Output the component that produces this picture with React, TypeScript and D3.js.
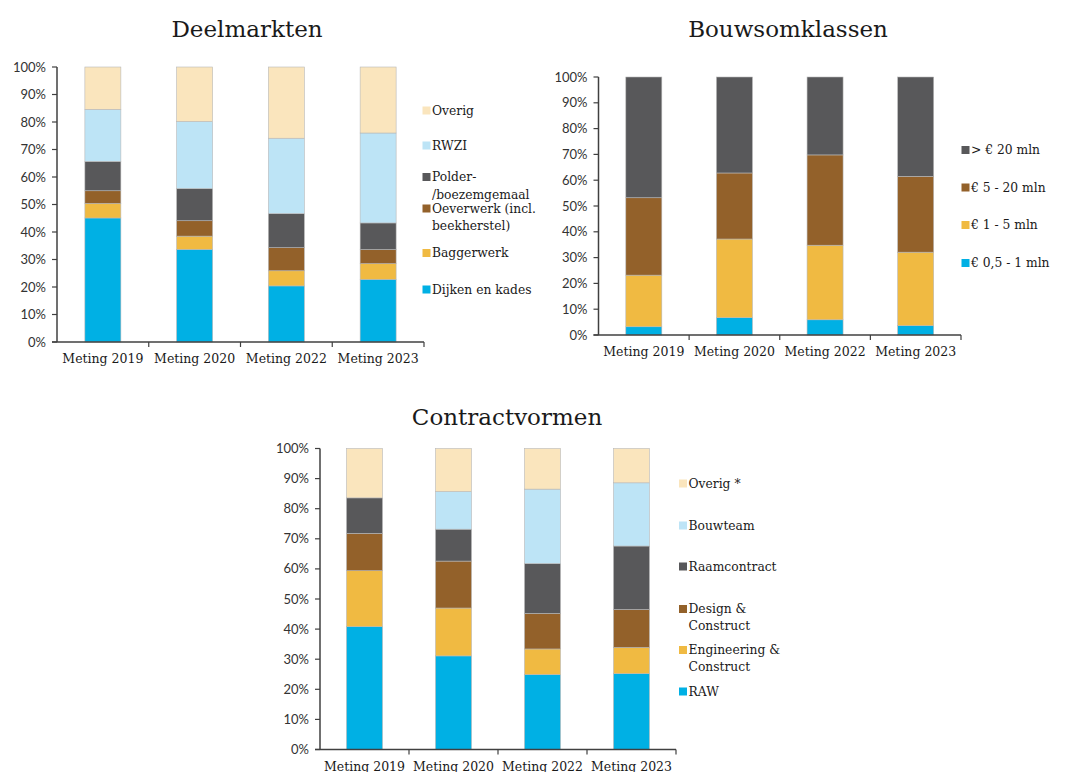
import React from "react";
import * as d3 from "d3";

const categories = ["Meting 2019", "Meting 2020", "Meting 2022", "Meting 2023"];
const yTicks = [0, 10, 20, 30, 40, 50, 60, 70, 80, 90, 100];

// Deelmarkten (bottom to top)
const deelSeries = ["Dijken en kades", "Baggerwerk", "Oeverwerk (incl. beekherstel)", "Polder- /boezemgemaal", "RWZI", "Overig"];
const deelDijken = [45.1, 33.7, 20.4, 22.8];
const deelBagger = [5.3, 4.8, 5.5, 5.7];
const deelOever = [4.6, 5.6, 8.4, 5.1];
const deelPolder = [10.7, 11.7, 12.4, 9.7];
const deelRwzi = [18.9, 24.4, 27.4, 32.7];
const deelOverig = [15.4, 19.8, 25.9, 24.0];

// Bouwsomklassen (bottom to top)
const bouwSeries = ["€ 0,5 - 1 mln", "€ 1 - 5 mln", "€ 5 - 20 mln", "> € 20 mln"];
const bouw05 = [3.2, 6.7, 5.9, 3.6];
const bouw1 = [20.0, 30.5, 28.9, 28.5];
const bouw5 = [30.0, 25.6, 35.0, 29.4];
const bouw20 = [46.8, 37.2, 30.2, 38.5];

// Contractvormen (bottom to top)
const contrSeries = ["RAW", "Engineering & Construct", "Design & Construct", "Raamcontract", "Bouwteam", "Overig *"];
const contrRaw = [40.8, 31.1, 24.9, 25.2];
const contrEc = [18.6, 15.9, 8.5, 8.7];
const contrDc = [12.4, 15.6, 11.8, 12.6];
const contrRaam = [11.8, 10.6, 16.6, 21.1];
const contrBouwteam = [0, 12.5, 24.7, 21.0];
const contrOverig = [16.4, 14.3, 13.5, 11.4];

const BLUE = "#00B0E4";
const YELLOW = "#F0BA42";
const BROWN = "#93612A";
const DARK = "#58585A";
const LIGHTBLUE = "#BDE4F6";
const BEIGE = "#FAE5BD";

const SERIF = "'DejaVu Serif', serif";
const SANS = "Lato, 'Liberation Sans', sans-serif";

type ChartProps = {
  title: string;
  titleX: number;
  titleY: number;
  x0: number;
  x1: number;
  yTop: number;
  yBot: number;
  barW: number;
  series: string[];
  values: number[][];
  colors: string[];
  legendX: number;
  legendYs: number[];
  legendLineH: number;
  legendFont: number;
};

function splitLabel(s: string): string[] {
  if (s === "Oeverwerk (incl. beekherstel)") return ["Oeverwerk (incl.", "beekherstel)"];
  if (s === "Polder- /boezemgemaal") return ["Polder-", "/boezemgemaal"];
  if (s === "Design & Construct") return ["Design &", "Construct"];
  if (s === "Engineering & Construct") return ["Engineering &", "Construct"];
  return [s];
}

function StackChart(p: ChartProps) {
  const x = d3.scaleBand<string>().domain(categories).range([p.x0, p.x1]).padding(0);
  const y = d3.scaleLinear().domain([0, 100]).range([p.yBot, p.yTop]);
  const rows = categories.map((c, i) => {
    const o: any = { cat: c };
    p.series.forEach((s, k) => (o[s] = p.values[k][i]));
    return o;
  });
  const stacked = d3.stack<any>().keys(p.series)(rows);
  const axisColor = "#404040";
  return (
    <g>
      <text x={p.titleX} y={p.titleY} textAnchor="middle" fontFamily={SERIF} fontSize={23} fill="#1a1a1a">
        {p.title}
      </text>
      {stacked.map((layer, k) => (
        <g key={k}>
          {layer.map((d, i) => {
            const h = y(d[0]) - y(d[1]);
            if (h <= 0) return null;
            const cx = (x(categories[i]) as number) + x.bandwidth() / 2;
            return (
              <rect
                key={i}
                x={cx - p.barW / 2}
                y={y(d[1])}
                width={p.barW}
                height={h}
                fill={p.colors[k]}
                stroke="#b8b8b8"
                strokeWidth={0.6}
              />
            );
          })}
        </g>
      ))}
      {/* y axis */}
      <line x1={p.x0} x2={p.x0} y1={p.yTop} y2={p.yBot} stroke={axisColor} strokeWidth={1.5} />
      {yTicks.map((t) => (
        <g key={t}>
          <line x1={p.x0 - 5} x2={p.x0} y1={y(t)} y2={y(t)} stroke={axisColor} strokeWidth={1.2} />
          <text x={p.x0 - 11} y={y(t)} dy="0.35em" textAnchor="end" fontFamily={SANS} fontSize={13} fill="#333">
            {t}%
          </text>
        </g>
      ))}
      {/* x axis */}
      <line x1={p.x0 - 5} x2={p.x1} y1={p.yBot} y2={p.yBot} stroke={axisColor} strokeWidth={1.5} />
      {categories.map((c, i) => {
        const left = x(c) as number;
        return (
          <g key={c}>
            {i > 0 && <line x1={left} x2={left} y1={p.yBot} y2={p.yBot + 5} stroke={axisColor} strokeWidth={1.2} />}
            <text x={left + x.bandwidth() / 2} y={p.yBot + 21} textAnchor="middle" fontFamily={SERIF} fontSize={12.5} fill="#1a1a1a">
              {c}
            </text>
          </g>
        );
      })}
      <line x1={p.x1} x2={p.x1} y1={p.yBot} y2={p.yBot + 5} stroke={axisColor} strokeWidth={1.2} />
      {/* legend (top of stack first) */}
      {p.series
        .map((s, k) => ({ s, k }))
        .reverse()
        .map(({ s, k }, j) => {
          const cy = p.legendYs[j];
          const lines = splitLabel(s);
          return (
            <g key={s}>
              <rect x={p.legendX} y={cy - 4} width={8} height={8} fill={p.colors[k]} />
              {lines.map((ln, li) => (
                <text
                  key={li}
                  x={p.legendX + 9.5}
                  y={cy + li * p.legendLineH}
                  dy="0.36em"
                  fontFamily={SERIF}
                  fontSize={p.legendFont}
                  fill="#1a1a1a"
                >
                  {ln}
                </text>
              ))}
            </g>
          );
        })}
    </g>
  );
}

export default function App() {
  return (
    <svg width={1068} height={772} style={{ position: "absolute", left: 0, top: 0, background: "#fff" }}>
      <StackChart
        title="Deelmarkten"
        titleX={247}
        titleY={36.5}
        x0={57}
        x1={424}
        yTop={67}
        yBot={342}
        barW={36}
        series={deelSeries}
        values={[deelDijken, deelBagger, deelOever, deelPolder, deelRwzi, deelOverig]}
        colors={[BLUE, YELLOW, BROWN, DARK, LIGHTBLUE, BEIGE]}
        legendX={422.5}
        legendYs={[110.5, 145.5, 177, 208.5, 253, 289.5]}
        legendLineH={17.5}
        legendFont={12.3}
      />
      <StackChart
        title="Bouwsomklassen"
        titleX={788}
        titleY={36.5}
        x0={598.5}
        x1={961}
        yTop={77}
        yBot={335}
        barW={36}
        series={bouwSeries}
        values={[bouw05, bouw1, bouw5, bouw20]}
        colors={[BLUE, YELLOW, BROWN, DARK]}
        legendX={961.5}
        legendYs={[150, 187.5, 225, 263]}
        legendLineH={18}
        legendFont={12.3}
      />
      <StackChart
        title="Contractvormen"
        titleX={507}
        titleY={425}
        x0={320}
        x1={676}
        yTop={448.5}
        yBot={749.5}
        barW={36}
        series={contrSeries}
        values={[contrRaw, contrEc, contrDc, contrRaam, contrBouwteam, contrOverig]}
        colors={[BLUE, YELLOW, BROWN, DARK, LIGHTBLUE, BEIGE]}
        legendX={679}
        legendYs={[483.5, 525.5, 566.5, 609, 650, 691.5]}
        legendLineH={16.5}
        legendFont={12.3}
      />
    </svg>
  );
}
